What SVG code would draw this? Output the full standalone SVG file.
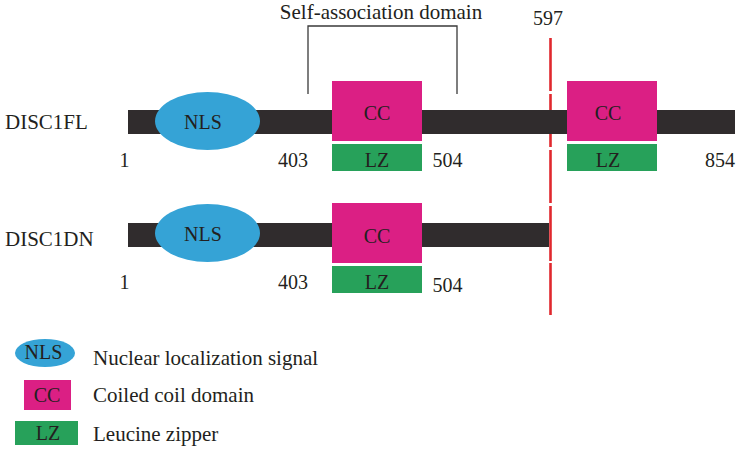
<svg xmlns="http://www.w3.org/2000/svg" width="737" height="449" viewBox="0 0 737 449">
<style>
text{font-family:"Liberation Serif","Times New Roman",serif;fill:#231f20;font-size:20px}
.m{text-anchor:middle}
.l{font-size:21px}
.bar{fill:#302c2d}
.nls{fill:#35a3d6}
.cc{fill:#db1f84}
.lz{fill:#27a15a}
.red{stroke:#e0282e;stroke-width:2.6;fill:none}
.br{stroke:#3a3a3a;stroke-width:1.3;fill:none}
</style>
<rect width="737" height="449" fill="#fff"/>
<g id="connectors">
<path class="br" d="M308 94V26H457V94"/>
<path class="red" d="M550.5 38V91M550.5 94V147M550.5 150V203M550.5 206V261M550.5 263V315"/>
</g>
<g id="self-association-label"><text class="m l" x="381" y="19">Self-association domain</text></g>
<g id="pos597"><text class="m" x="548" y="25">597</text></g>
<g id="disc1fl">
<text class="l" x="5" y="129">DISC1FL</text>
<rect class="bar" x="128" y="110" width="607" height="24"/>
<ellipse class="nls" cx="207.5" cy="121" rx="52.5" ry="29"/>
<text class="m" x="203" y="129" font-size="19">NLS</text>
<rect class="cc" x="332" y="81" width="90" height="60"/>
<text class="m" x="377" y="120">CC</text>
<rect class="lz" x="332" y="144" width="90" height="27"/>
<text class="m" x="377" y="167" font-size="19">LZ</text>
<rect class="cc" x="567" y="81" width="90" height="60"/>
<text class="m" x="608" y="120">CC</text>
<rect class="lz" x="567" y="144" width="90" height="27"/>
<text class="m" x="608" y="167" font-size="19">LZ</text>
<text class="m" x="124.5" y="167">1</text>
<text class="m" x="293" y="167">403</text>
<text class="m" x="447.5" y="167">504</text>
<text class="m" x="720" y="167">854</text>
</g>
<g id="disc1dn">
<text class="l" x="5" y="246">DISC1DN</text>
<rect class="bar" x="128" y="223" width="421" height="24"/>
<ellipse class="nls" cx="207.5" cy="233" rx="52.5" ry="29"/>
<text class="m" x="203" y="241" font-size="19">NLS</text>
<rect class="cc" x="332" y="203" width="90" height="60"/>
<text class="m" x="377" y="243">CC</text>
<rect class="lz" x="332" y="266" width="90" height="27"/>
<text class="m" x="377" y="289" font-size="19">LZ</text>
<text class="m" x="124.5" y="289">1</text>
<text class="m" x="293" y="289">403</text>
<text class="m" x="447.5" y="292">504</text>
</g>
<g id="legend-nls">
<ellipse class="nls" cx="45" cy="353" rx="30" ry="14"/>
<text class="m" x="43.5" y="359" font-size="19">NLS</text>
<text class="l" x="93" y="365">Nuclear localization signal</text>
</g>
<g id="legend-cc">
<rect class="cc" x="24" y="380" width="47" height="30"/>
<text class="m" x="47" y="402">CC</text>
<text class="l" x="93" y="402">Coiled coil domain</text>
</g>
<g id="legend-lz">
<rect class="lz" x="15" y="421" width="63" height="24"/>
<text class="m" x="48" y="440" font-size="19">LZ</text>
<text class="l" x="93" y="441">Leucine zipper</text>
</g>
</svg>
